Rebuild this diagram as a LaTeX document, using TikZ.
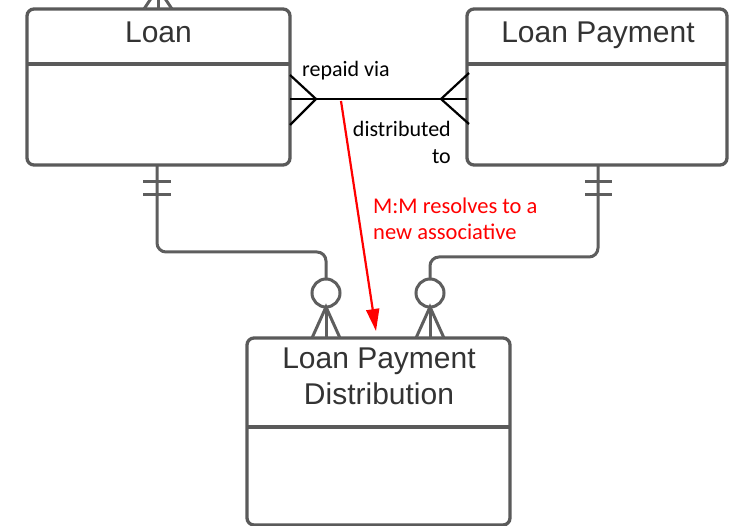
\documentclass[tikz,border=0pt]{standalone}
\usepackage{fontspec}
\setmainfont{Liberation Sans}
\newfontfamily\lblfam{Carlito}
\usetikzlibrary{arrows.meta}
\definecolor{boxgray}{HTML}{5A5A5A}
\definecolor{linegray}{HTML}{5E5E5E}
\definecolor{txtgray}{HTML}{333333}
\definecolor{arrred}{HTML}{FF0000}
\begin{document}
\begin{tikzpicture}[x=1pt,y=-1pt,
  entity/.style={draw=boxgray, line width=3.3pt, rounded corners=7pt, fill=white, inner sep=0pt},
  divider/.style={draw=boxgray, line width=3.3pt},
  title/.style={font=\fontsize{30}{36}\selectfont, text=txtgray, inner sep=0pt, align=center},
  conn/.style={draw=linegray, line width=3pt},
  rel/.style={draw=black, line width=2.2pt},
  lbl/.style={font=\lblfam\fontsize{22}{27}\selectfont, inner sep=0pt, text=black},
  redlbl/.style={font=\lblfam\fontsize{22.5}{26}\selectfont, inner sep=0pt, text=arrred, align=left},
  redarrow/.style={draw=arrred, line width=2.2pt, -{Triangle[length=22pt,width=13pt]}}
]
\useasboundingbox (0,0) rectangle (738,526);
\fill[white] (0,0) rectangle (738,526);

% connectors (drawn first, boxes cover the joins)
\coordinate (lcA) at (157,165);
\coordinate (lcB) at (157,252);
\coordinate (lcC) at (326,252);
\coordinate (lcD) at (326,279);
\draw[conn, rounded corners=9pt] (lcA) -- (lcB) -- (lcC) -- (lcD);
\coordinate (rcA) at (598,165);
\coordinate (rcB) at (598,257);
\coordinate (rcC) at (430,257);
\coordinate (rcD) at (430,279);
\draw[conn, rounded corners=9pt] (rcA) -- (rcB) -- (rcC) -- (rcD);

% entities
\node[entity, minimum width=263pt, minimum height=156pt] (loan) at (158.5,87) {};
\node[entity, minimum width=260pt, minimum height=156pt] (lp) at (597,87) {};
\node[entity, minimum width=263pt, minimum height=187pt] (lpd) at (378.5,431.5) {};

\coordinate (loanDL) at (27,64);   \coordinate (loanDR) at (290,64);
\coordinate (lpDL) at (467,64);    \coordinate (lpDR) at (727,64);
\coordinate (lpdDL) at (247,427);  \coordinate (lpdDR) at (510,427);
\draw[divider] (loanDL) -- (loanDR);
\draw[divider] (lpDL) -- (lpDR);
\draw[divider] (lpdDL) -- (lpdDR);

\node[title, anchor=base] (loanT) at (158.5,43) {Loan};
\node[title, anchor=base] (lpT) at (598,43) {Loan Payment};
\node[title, anchor=south] (lpdT) at (379,405) {Loan Payment\\Distribution};

% partial crow's foot on top of Loan
\begin{scope}
\clip (0,0) rectangle (738,526);
\coordinate (tA) at (158,-12);
\draw[conn] (144,9) -- (tA) -- (172,9);
\draw[conn] (tA) -- (158,9);
\end{scope}

% one-and-only-one bars
\draw[conn] (143,182) -- (171,182);
\draw[conn] (143,195) -- (171,195);
\draw[conn] (585,182) -- (612,182);
\draw[conn] (585,195) -- (612,195);

% zero-or-many on LPD
\draw[conn] (326,293) circle (14);
\coordinate (lfA) at (326,307);
\draw[conn] (312,338) -- (lfA) -- (340,338);
\draw[conn] (lfA) -- (326,338);
\draw[conn] (430,293) circle (14);
\coordinate (rfA) at (430,307);
\draw[conn] (416,338) -- (rfA) -- (444,338);
\draw[conn] (rfA) -- (430,338);

% many-to-many relationship
\coordinate (r1) at (290,99);
\coordinate (r2) at (467,99);
\draw[rel] (r1) -- (r2);
\coordinate (cf1) at (316,99);
\draw[rel] (290,75) -- (cf1) -- (290,125);
\coordinate (cf2) at (441,99);
\draw[rel] (469,73) -- (cf2) -- (469,124);

\node[lbl, anchor=base west] (repaid) at (302,77) {repaid via};
\node[lbl, anchor=south east, align=right] (distr) at (451,164) {distributed\\to};

% red annotation
\coordinate (arrS) at (341,101);
\coordinate (arrE) at (376,331);
\draw[redarrow] (arrS) -- (arrE);
\node[redlbl, anchor=south west] (note) at (373,240) {M:M resolves to a\\new associative};
\end{tikzpicture}
\end{document}
